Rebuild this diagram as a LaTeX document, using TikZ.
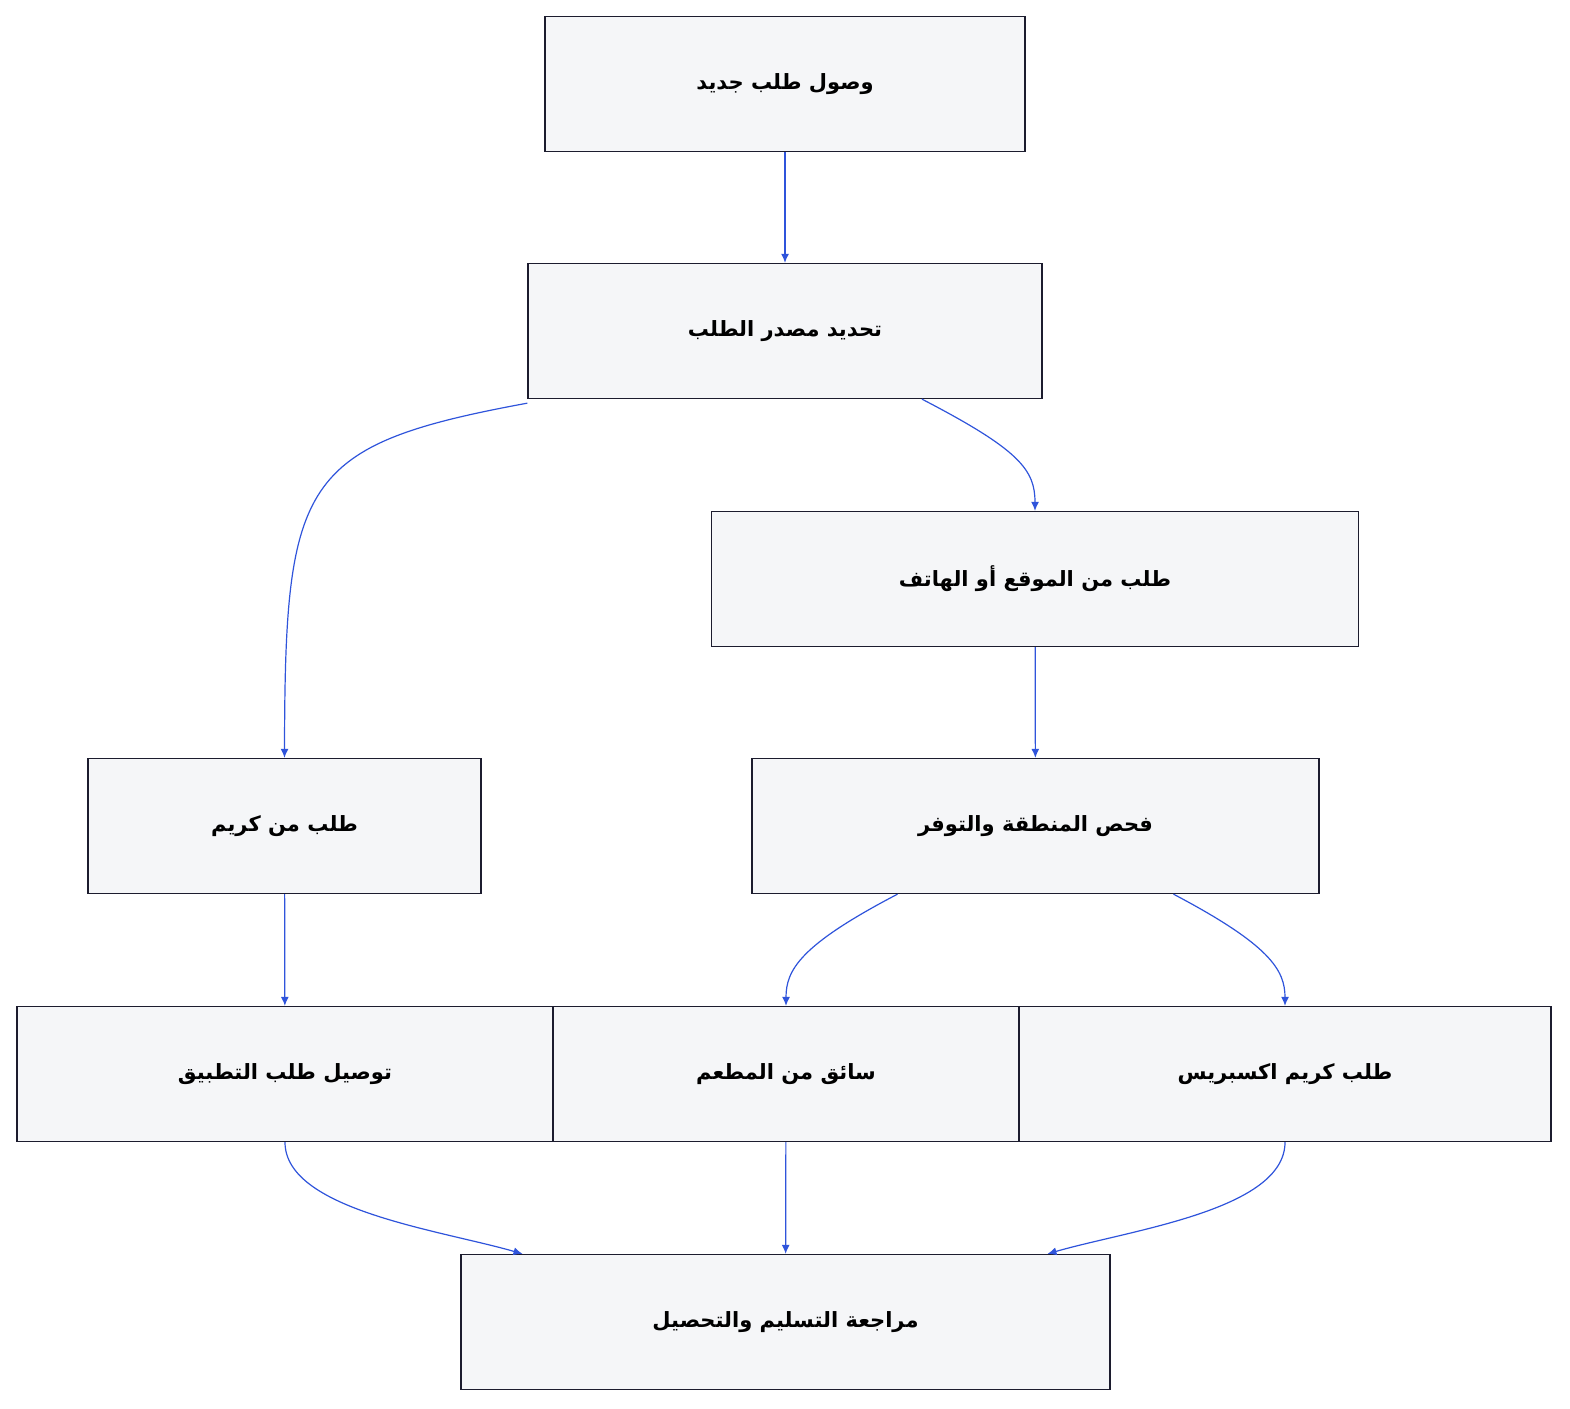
\documentclass[tikz,border=0pt]{standalone}
\usepackage{fontspec}
\newfontfamily\arabicfont[Script=Arabic]{DejaVu Sans}
\usetikzlibrary{arrows.meta}
\definecolor{boxfill}{HTML}{F5F6F8}
\definecolor{boxline}{HTML}{1C1C2E}
\definecolor{flow}{HTML}{2F54DB}
\newcommand{\ar}[1]{\arabicfont\bfseries\beginR #1\endR}
\tikzset{
  line/.style={-{Latex[length=9pt,width=8pt]}, draw=flow, line width=1.2pt},
  box/.style={draw=boxline, fill=boxfill, line width=1.3pt, inner sep=0pt,
    minimum height=135pt, font=\fontsize{21}{25}\selectfont}
}
\begin{document}
\TeXXeTstate=1
\begin{tikzpicture}[x=1pt, y=-1pt]
  \useasboundingbox (0,0) rectangle (1570,1408);
  % boxes
  \node[box, minimum width=480pt] (arrive) at (785,84) {\ar{وصول طلب جديد}};
  \node[box, minimum width=514pt] (source) at (785,331) {\ar{تحديد مصدر الطلب}};
  \node[box, minimum width=647pt] (web) at (1035,579) {\ar{طلب من الموقع أو الهاتف}};
  \node[box, minimum width=393pt] (app) at (284.5,826) {\ar{طلب من كريم}};
  \node[box, minimum width=567pt] (check) at (1035.5,826) {\ar{فحص المنطقة والتوفر}};
  \node[box, minimum width=536pt] (deliver) at (285,1074) {\ar{توصيل طلب التطبيق}};
  \node[box, minimum width=466pt] (driver) at (786,1074) {\ar{سائق من المطعم}};
  \node[box, minimum width=532pt] (express) at (1285,1074) {\ar{طلب كريم اكسبريس}};
  \node[box, minimum width=649pt] (review) at (785.5,1322) {\ar{مراجعة التسليم والتحصيل}};

  % connectors
  \draw[line] (arrive) -- (source);
  \draw[line] ([yshift=-4pt]source.south west) .. controls (300,445) and (285,480) .. (app.north);
  \draw[line] ([xshift=137pt]source.south) .. controls (1020,450) and (1035,470) .. (web.north);
  \draw[line] (web) -- (check);
  \draw[line] (app) -- (deliver);
  \draw[line] ([xshift=-138pt]check.south) .. controls (800,945) and (786,970) .. (driver.north);
  \draw[line] ([xshift=138pt]check.south) .. controls (1270,945) and (1285,970) .. (express.north);
  \draw[line] (deliver.south) .. controls (285,1210) and (440,1230) .. ([xshift=-263pt]review.north);
  \draw[line] (driver) -- (review);
  \draw[line] (express.south) .. controls (1285,1210) and (1130,1230) .. ([xshift=262pt]review.north);
\end{tikzpicture}
\end{document}
